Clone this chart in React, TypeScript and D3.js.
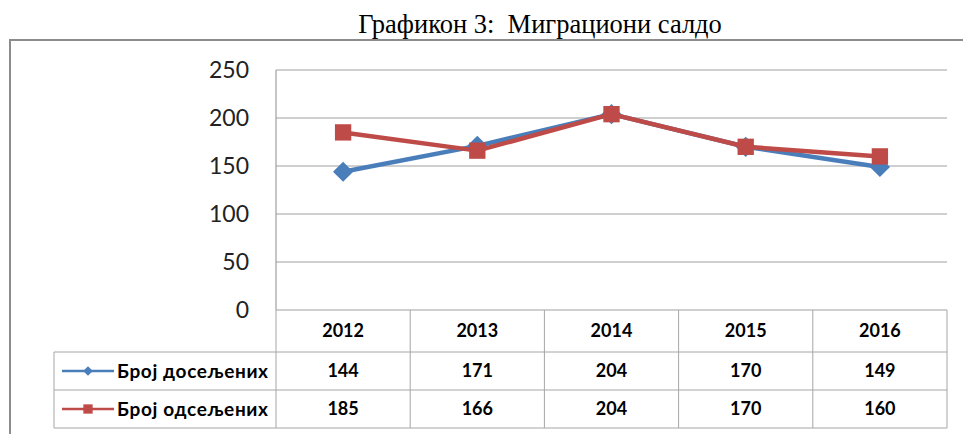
import React, { useEffect, useRef } from 'react';
import * as d3 from 'd3';

const years = ['2012', '2013', '2014', '2015', '2016'];
const doseljeni = [144, 171, 204, 170, 149];
const odseljeni = [185, 166, 204, 170, 160];
const yTicks = [0, 50, 100, 150, 200, 250];
const seriesNames = ['Број досељених', 'Број одсељених'];
const seriesColors = ['#4A7EBB', '#BE4B48'];

const W = 963;
const H = 434;

const App = () => {
  const svgRef = useRef(null);

  useEffect(() => {
    const svg = d3.select(svgRef.current);
    svg.selectAll('*').remove();

    const font = "Lato, 'Open Sans', sans-serif";
    const left = 276, right = 947, top = 70, bottom = 310;
    const rowH = [42, 38, 38];
    const legendLeft = 54;

    const x = d3.scaleBand().domain(years).range([left, right]);
    const y = d3.scaleLinear().domain([0, 250]).range([bottom, top]);

    // title
    svg.append('text')
      .attr('x', 540).attr('y', 33)
      .attr('text-anchor', 'middle')
      .style('font-family', "'Liberation Serif', 'Times New Roman', serif")
      .style('font-size', '26.5px')
      .style('white-space', 'pre')
      .text('Графикон 3:  Миграциони салдо');

    // outer frame
    svg.append('rect')
      .attr('x', 10).attr('y', 40).attr('width', 980).attr('height', 420)
      .attr('fill', 'none').attr('stroke', '#8c8c8c').attr('stroke-width', 2);

    // gridlines
    svg.append('g').selectAll('line').data(yTicks).enter().append('line')
      .attr('x1', left).attr('x2', right)
      .attr('y1', d => y(d)).attr('y2', d => y(d))
      .attr('stroke', '#a0a0a0').attr('stroke-width', 1.2);

    svg.append('line')
      .attr('x1', left).attr('x2', left).attr('y1', top).attr('y2', bottom)
      .attr('stroke', '#a0a0a0').attr('stroke-width', 1.2);

    // y tick labels
    svg.append('g').selectAll('text').data(yTicks).enter().append('text')
      .attr('x', 249).attr('y', d => y(d))
      .attr('dy', '0.36em')
      .attr('text-anchor', 'end')
      .style('font-family', font).style('font-size', '23px').style('fill', '#222')
      .text(d => d);

    // data table
    const tb = svg.append('g');
    const rowTop = [bottom, bottom + rowH[0], bottom + rowH[0] + rowH[1]];
    const tableBottom = rowTop[2] + rowH[2];
    const gridColor = '#a6a6a6';

    // horizontal lines
    [rowTop[1], rowTop[2], tableBottom].forEach(yy => {
      tb.append('line').attr('x1', legendLeft).attr('x2', right)
        .attr('y1', yy).attr('y2', yy).attr('stroke', gridColor);
    });
    // vertical lines
    const cols = years.map(d => x(d)).concat([right]);
    tb.selectAll('line.v').data(cols).enter().append('line')
      .attr('x1', d => d).attr('x2', d => d)
      .attr('y1', bottom).attr('y2', tableBottom)
      .attr('stroke', gridColor);
    tb.append('line').attr('x1', legendLeft).attr('x2', legendLeft)
      .attr('y1', rowTop[1]).attr('y2', tableBottom).attr('stroke', gridColor);

    // header labels
    tb.selectAll('text.yr').data(years).enter().append('text')
      .attr('x', d => x(d) + x.bandwidth() / 2)
      .attr('y', rowTop[0] + rowH[0] / 2)
      .attr('dy', '0.36em').attr('text-anchor', 'middle')
      .style('font-family', font).style('font-size', '18px').style('font-weight', 'bold')
      .text(d => d);

    const series = [doseljeni, odseljeni];
    series.forEach((vals, i) => {
      const cy = rowTop[i + 1] + rowH[i + 1] / 2;
      tb.selectAll(`text.v${i}`).data(vals).enter().append('text')
        .attr('x', (d, j) => x(years[j]) + x.bandwidth() / 2)
        .attr('y', cy)
        .attr('dy', '0.36em').attr('text-anchor', 'middle')
        .style('font-family', font).style('font-size', '18px').style('font-weight', 'bold')
        .text(d => d);

      // legend key
      tb.append('line').attr('x1', 62).attr('x2', 114).attr('y1', cy).attr('y2', cy)
        .attr('stroke', seriesColors[i]).attr('stroke-width', 2.5);
      const sym = d3.symbol().type(i === 0 ? d3.symbolDiamond2 : d3.symbolSquare2).size(i === 0 ? 60 : 110);
      tb.append('path').attr('d', sym())
        .attr('transform', `translate(88,${cy})`)
        .attr('fill', seriesColors[i]);
      tb.append('text')
        .attr('x', 117).attr('y', cy).attr('dy', '0.36em')
        .attr('textLength', 151).attr('lengthAdjust', 'spacing')
        .style('font-family', font).style('font-size', '19px').style('font-weight', 'bold')
        .text(seriesNames[i]);
    });

    // lines
    const line = d3.line()
      .x((d, j) => x(years[j]) + x.bandwidth() / 2)
      .y(d => y(d));

    series.forEach((vals, i) => {
      svg.append('path').datum(vals)
        .attr('d', line)
        .attr('fill', 'none')
        .attr('stroke', seriesColors[i])
        .attr('stroke-width', 4.5)
        .attr('stroke-linejoin', 'round');
      const sym = d3.symbol().type(i === 0 ? d3.symbolDiamond2 : d3.symbolSquare2).size(i === 0 ? 260 : 340);
      svg.append('g').selectAll('path').data(vals).enter().append('path')
        .attr('d', sym())
        .attr('transform', (d, j) => `translate(${x(years[j]) + x.bandwidth() / 2},${y(d)})`)
        .attr('fill', seriesColors[i]);
    });
  }, []);

  return (
    <svg ref={svgRef} width={W} height={H}
      style={{ position: 'absolute', left: 0, top: 0, background: '#fff' }} />
  );
};

export default App;
